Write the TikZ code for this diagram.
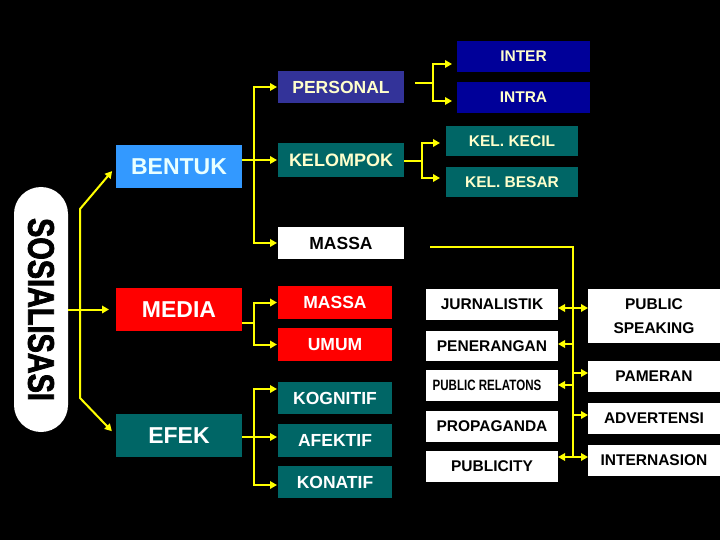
\documentclass[tikz,border=0pt]{standalone}
\usepackage{fontspec}
\setmainfont{Liberation Sans}
\newfontfamily\condfont{Liberation Sans}[FakeStretch=0.77]
\newfontfamily\heavyfont{Liberation Sans}[FakeStretch=0.78,FakeBold=2]
\usetikzlibrary{arrows.meta}
\definecolor{yel}{HTML}{FFFF00}
\definecolor{tealbox}{HTML}{006666}
\definecolor{bentukblue}{HTML}{3399FF}
\definecolor{bentuktext}{HTML}{E8FFFF}
\definecolor{persblue}{HTML}{333399}
\definecolor{darkblue}{HTML}{000099}
\definecolor{redbox}{HTML}{FF0000}
\definecolor{paleyel}{HTML}{FFFFCC}
\tikzset{tri/.tip={Triangle[length=7pt,width=7.5pt]}}
\begin{document}
\begin{tikzpicture}[x=1pt,y=-1pt,
  line/.style={draw=yel, line width=2pt},
  arr/.style={line, -tri},
  box/.style={anchor=north west, inner sep=0pt, outer sep=0pt},
  big/.style={box, minimum width=126pt, minimum height=43pt, text=white,
    font=\bfseries\fontsize{23}{26}\selectfont},
  mid/.style={box, minimum width=126pt, minimum height=32pt, text=paleyel,
    font=\bfseries\fontsize{17.5}{20}\selectfont},
  sml/.style={box, minimum width=114pt, minimum height=33pt, text=white,
    font=\bfseries\fontsize{17.5}{20}\selectfont},
  topr/.style={box, minimum width=133pt, minimum height=31pt, text=paleyel,
    font=\bfseries\fontsize{15.5}{18}\selectfont},
  wbox/.style={box, fill=white, minimum width=132pt, minimum height=31pt, text=black,
    font=\bfseries\fontsize{15.5}{18}\selectfont}
]
\fill[black] (0,0) rectangle (720,540);
\useasboundingbox (0,0) rectangle (720,540);

% pill
\node[fill=white, rounded corners=27pt, minimum width=245pt, minimum height=54pt,
  inner sep=0pt, rotate=-90, text=black,
  font=\heavyfont\bfseries\fontsize{37}{37}\selectfont] (sos) at (41,309.5) {SOSIALISASI};

% left column
\node[big, fill=bentukblue, text=bentuktext] (bentuk) at (116,145) {BENTUK};
\node[big, fill=redbox] (media) at (116,288) {MEDIA};
\node[big, fill=tealbox] (efek) at (116,414) {EFEK};

% middle column
\node[mid, fill=persblue] (personal) at (278,71) {PERSONAL};
\node[mid, fill=tealbox, minimum height=34pt, font=\bfseries\fontsize{18}{20}\selectfont] (kelompok) at (278,143) {KELOMPOK};
\node[mid, fill=white, text=black] (massaw) at (278,227) {MASSA};
\node[sml, fill=redbox] (massar) at (278,286) {MASSA};
\node[sml, fill=redbox] (umum) at (278,328) {UMUM};
\node[sml, fill=tealbox, minimum height=32pt] (kognitif) at (278,382) {KOGNITIF};
\node[sml, fill=tealbox] (afektif) at (278,424) {AFEKTIF};
\node[sml, fill=tealbox, minimum height=32pt] (konatif) at (278,466) {KONATIF};

% top right
\node[topr, fill=darkblue] (inter) at (457,41) {INTER};
\node[topr, fill=darkblue] (intra) at (457,82) {INTRA};
\node[topr, fill=tealbox, minimum width=132pt, minimum height=30pt] (kecil) at (446,126) {KEL. KECIL};
\node[topr, fill=tealbox, minimum width=132pt, minimum height=30pt] (besar) at (446,167) {KEL. BESAR};

% white boxes left
\node[wbox] (jurn) at (426,289) {JURNALISTIK};
\node[wbox, minimum height=30pt] (pener) at (426,331) {PENERANGAN};
\node[wbox, font=\condfont\bfseries\fontsize{15}{18}\selectfont] (pr) at (426,370) {\hspace*{-10pt}PUBLIC RELATONS};
\node[wbox] (propa) at (426,411) {PROPAGANDA};
\node[wbox] (publicity) at (426,451) {PUBLICITY};

% white boxes right
\node[wbox, minimum height=54pt, align=center, font=\bfseries\fontsize{15.5}{24}\selectfont] (ps) at (588,289) {PUBLIC\\SPEAKING};
\node[wbox] (pameran) at (588,361) {PAMERAN};
\node[wbox] (advert) at (588,403) {ADVERTENSI};
\node[wbox] (intern) at (588,445) {INTERNASION};

% connectors from pill
\draw[arr, shorten >=7pt] (sos.north) -- (sos.north -| media.west);
\coordinate (vt) at (80,209);
\coordinate (vb) at (80,398);
\draw[line, tri-tri, shorten <=6pt, shorten >=6pt] (bentuk.west) -- (vt) -- (vb) -- (efek.west);

% bentuk branches
\coordinate (bj) at (254,0);
\draw[arr, shorten >=1pt] (bentuk.east |- kelompok.west) -- (kelompok.west);
\draw[line, tri-tri, shorten <=1pt, shorten >=1pt] (personal.west) -- (bj |- personal.west) -- (bj |- massaw.west) -- (massaw.west);

% media branches
\coordinate (mj) at (254,323);
\draw[line] (media.east |- mj) -- (mj);
\draw[line, tri-tri, shorten <=1pt, shorten >=1pt] (massar.west) -- (bj |- massar.west) -- (bj |- umum.west) -- (umum.west);

% efek branches
\coordinate (ej) at (254,437);
\coordinate (kg) at ([yshift=9pt]kognitif.west);
\coordinate (kn) at ([yshift=-3pt]konatif.west);
\draw[line] (efek.east |- ej) -- (ej);
\draw[line, tri-tri, shorten <=1pt, shorten >=1pt] (kg) -- (bj |- kg) -- (bj |- kn) -- (kn);
\draw[arr, shorten >=1pt] (ej) -- (ej -| afektif.west);

% personal branches
\coordinate (p0) at (415,83);
\coordinate (pj) at (433,83);
\coordinate (i1) at (433,64);
\coordinate (i2) at (433,101);
\draw[line] (p0) -- (pj);
\draw[line, tri-tri, shorten <=5pt, shorten >=5pt] (i1 -| inter.west) -- (i1) -- (i2) -- (i2 -| intra.west);

% kelompok branches
\coordinate (kj) at (422,161);
\coordinate (k1) at (422,143);
\coordinate (k2) at (422,178);
\draw[line] (kelompok.east |- kj) -- (kj);
\draw[line, tri-tri, shorten <=6pt, shorten >=6pt] (k1 -| kecil.west) -- (k1) -- (k2) -- (k2 -| besar.west);

% massa spine
\coordinate (m0) at (430,247);
\coordinate (sp) at (573,247);
\coordinate (se) at (573,457);
\draw[line] (m0) -- (sp) -- (se);
\coordinate (s1) at (573,308);
\coordinate (s2) at (573,344);
\coordinate (s3) at (573,385);
\coordinate (s4) at (573,373);
\coordinate (s5) at (573,415);
\coordinate (s6) at (573,457);
\draw[arr] (s1) -- (s1 -| jurn.east);
\draw[arr] (s1) -- (s1 -| ps.west);
\draw[arr] (s2) -- (s2 -| pener.east);
\draw[arr] (s3) -- (s3 -| pr.east);
\draw[arr] (s4) -- (s4 -| pameran.west);
\draw[arr] (s5) -- (s5 -| advert.west);
\draw[arr] (s6) -- (s6 -| publicity.east);
\draw[arr] (s6) -- (s6 -| intern.west);
\end{tikzpicture}
\end{document}
